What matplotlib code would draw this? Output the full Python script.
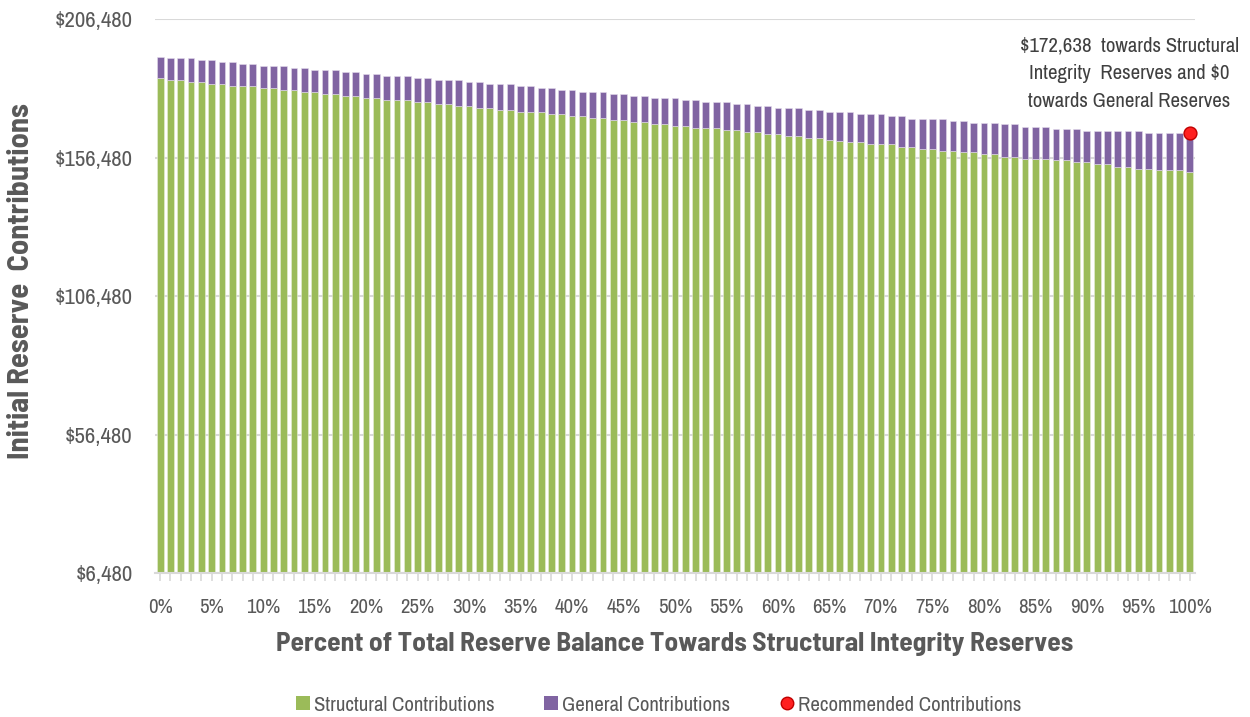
import matplotlib
matplotlib.use("Agg")
import matplotlib.pyplot as plt
from matplotlib.ticker import FuncFormatter
from matplotlib.lines import Line2D
from matplotlib.patches import Patch

pct = list(range(0, 101))

structural = [
    185100, 184400, 184400, 183700, 183700, 183000, 183000, 182300, 182300, 182300,
    181500, 181500, 180800, 180800, 180100, 180100, 179400, 179400, 178700, 178700,
    177900, 177900, 177200, 177200, 177200, 176500, 176500, 175800, 175800, 175100,
    175100, 174300, 174300, 173600, 173600, 172900, 172900, 172900, 172200, 172200,
    171500, 171500, 170700, 170700, 170000, 170000, 169300, 169300, 168600, 168600,
    167900, 167900, 167200, 167200, 167200, 166400, 166400, 165700, 165700, 165000,
    165000, 164300, 164300, 163600, 163600, 162900, 162600, 161900, 161900, 161200,
    161200, 161200, 160400, 160400, 159700, 159700, 159000, 159000, 158300, 158300,
    157600, 157600, 156800, 156800, 156100, 156100, 156100, 155400, 155400, 154700,
    154700, 154000, 154000, 153200, 153200, 152500, 152500, 151800, 151800, 151800,
    151100,
]

general = [
    7800, 7900, 7900, 8600, 7800, 8500, 7900, 8600, 7900, 7900,
    8000, 8000, 8700, 7900, 8600, 7900, 8600, 8600, 8700, 8700,
    8700, 8700, 8700, 8700, 8700, 8600, 8600, 8600, 8600, 9300,
    8600, 9400, 8700, 9400, 9400, 9400, 9400, 8600, 9300, 8600,
    9300, 8600, 9400, 9400, 9400, 9400, 9400, 9400, 9300, 9300,
    10000, 9300, 10000, 9300, 9300, 10100, 9400, 10100, 9400, 10100,
    9300, 10000, 10000, 10000, 10000, 9900, 10200, 10900, 10200, 10900,
    10900, 10100, 10900, 10100, 10800, 10800, 11500, 10800, 11500, 10800,
    11500, 11500, 11600, 11600, 11500, 11500, 11500, 11500, 11500, 12200,
    11500, 12200, 12200, 13000, 13000, 13700, 13000, 13700, 13700, 13700,
    14400,
]

recommended_pct = [100]
recommended_value = [165500]

y_min, y_max, y_step = 6480, 206480, 50000

tick_pcts = list(range(0, 101, 5))
tick_labels = [f"{p}%" for p in tick_pcts]

annotation = "$172,638  towards Structural\nIntegrity  Reserves and $0\ntowards General Reserves"

GREEN = "#9BBB59"
PURPLE = "#8064A2"
GRAY = "#595959"
FONT = ["Archivo Narrow", "Liberation Sans", "DejaVu Sans"]
BOLD = ["Barlow Semi Condensed", "Liberation Sans", "DejaVu Sans"]
plt.rcParams["font.family"] = FONT

fig = plt.figure(figsize=(12.5, 7.17), dpi=100)
ax = fig.add_axes([0.124, 0.2008, 0.832, 0.7727])

ax.bar(pct, structural, width=0.66, bottom=0, color=GREEN, edgecolor="#E8EFD8",
       linewidth=0.4, zorder=2)
ax.bar(pct, general, width=0.66, bottom=structural, color=PURPLE, edgecolor="#E3DCEB",
       linewidth=0.4, zorder=2)
ax.scatter(recommended_pct, recommended_value, s=85, color="#FF2020",
           edgecolor="#C00000", linewidth=1.0, zorder=4, clip_on=False)

ax.set_xlim(-0.5, 100.5)
ax.set_ylim(y_min, y_max)
ax.set_yticks(list(range(y_min, y_max + 1, y_step)))
ax.yaxis.set_major_formatter(FuncFormatter(lambda v, p: f"${v:,.0f}"))
ax.grid(axis="y", color="#D9D9D9", linewidth=1.5, zorder=0)
ax.set_axisbelow(True)

ax.set_xticks(tick_pcts)
ax.set_xticklabels(tick_labels)
ax.set_xticks(pct, minor=True)
ax.tick_params(axis="x", which="both", length=6, color="#D9D9D9", width=1.2,
               labelsize=15, labelcolor=GRAY, pad=12)
ax.tick_params(axis="y", length=0, labelsize=16.5, labelcolor=GRAY, pad=16)

for s in ["top", "right", "left"]:
    ax.spines[s].set_visible(False)
ax.spines["bottom"].set_color("#D9D9D9")
ax.spines["bottom"].set_linewidth(1.5)

ax.set_xlabel("Percent of Total Reserve Balance Towards Structural Integrity Reserves",
              fontsize=19.7, fontweight="bold", color=GRAY, labelpad=11, family=BOLD)
fig.text(22 / 1250, 1 - 281 / 717, "Initial Reserve  Contributions", rotation=90,
         ha="center", va="center", fontsize=22, fontweight="bold", color=GRAY,
         family=BOLD)

ax.text(94.1, 186700, annotation, ha="center", va="center", fontsize=15,
        color="#404040", linespacing=1.6, zorder=5)

handles = [
    Patch(facecolor=GREEN, edgecolor="none"),
    Patch(facecolor=PURPLE, edgecolor="none"),
    Line2D([], [], marker="o", linestyle="none", markersize=9,
           markerfacecolor="#FF2020", markeredgecolor="#C00000"),
]
labels = ["Structural Contributions", "General Contributions", "Recommended Contributions"]
fig.legend(handles, labels, loc="center", bbox_to_anchor=(0.527, 0.0167), ncol=3,
           frameon=False, fontsize=15, labelcolor=GRAY, columnspacing=2.4,
           handlelength=0.65, handleheight=0.65, handletextpad=0.2,
           borderpad=0.1)

fig.savefig("out.png", dpi=100)
